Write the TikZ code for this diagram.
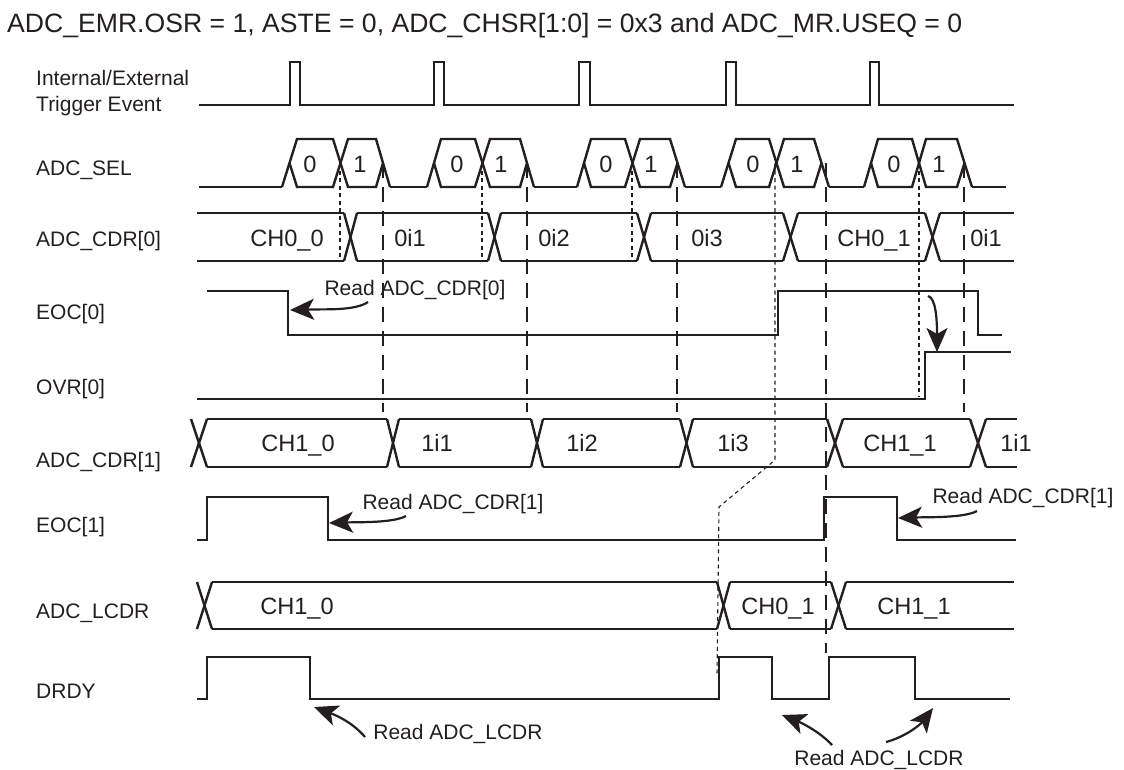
\documentclass[tikz,border=0pt]{standalone}
\usepackage{fontspec}
\setmainfont{Liberation Sans}
\usetikzlibrary{arrows.meta}
\definecolor{inkblack}{HTML}{231F20}
\tikzset{
  sigline/.style={inkblack, line width=2.4pt, line join=miter},
  griddash/.style={inkblack, line width=1.2pt, dash pattern=on 15pt off 9pt},
  edgedash/.style={inkblack, line width=1.1pt, dash pattern=on 4pt off 3.5pt},
  readarrow/.style={inkblack, line width=2.2pt, -{Stealth[length=24pt,width=21pt,inset=6pt]}},
  readtext/.style={inkblack, font=\fontsize{21}{24}\selectfont, inner sep=0pt, anchor=base},
  bustext/.style={inkblack, font=\fontsize{23.6}{26}\selectfont, inner sep=0pt, anchor=base},
  rowlabel/.style={inkblack, font=\fontsize{21}{24}\selectfont, inner sep=0pt, anchor=base west},
}
\begin{document}
\begin{tikzpicture}[x=1pt,y=-1pt]
  \useasboundingbox (0,0) rectangle (1124,769);
  \node[inkblack, font=\fontsize{26.6}{30}\selectfont, inner sep=0pt, anchor=west] (title) at (7,26)
    {ADC\_EMR.OSR = 1, ASTE = 0, ADC\_CHSR[1:0] = 0x3 and ADC\_MR.USEQ = 0};
  % row labels
  \node[rowlabel] (lbltrigA) at (36,85) {Internal/External};
  \node[rowlabel] (lbltrigB) at (36,111) {Trigger Event};
  \node[rowlabel] (lblsel) at (36,175) {ADC\_SEL};
  \node[rowlabel] (lblcdrzero) at (36,246) {ADC\_CDR[0]};
  \node[rowlabel] (lbleoczero) at (36,319) {EOC[0]};
  \node[rowlabel] (lblovr) at (36,394) {OVR[0]};
  \node[rowlabel] (lblcdrone) at (36,467) {ADC\_CDR[1]};
  \node[rowlabel] (lbleocone) at (36,532) {EOC[1]};
  \node[rowlabel] (lbllcdr) at (36,618) {ADC\_LCDR};
  \node[rowlabel] (lbldrdy) at (36,698) {DRDY};
  % dashed guides
  \foreach \x in {383,527,677,964} \draw[griddash] (\x,163) -- (\x,412);
  \draw[griddash] (826,163) -- (826,653);
  \foreach \x in {340,482,632} \draw[edgedash] (\x,163) -- (\x,261);
  \draw[edgedash] (919,163) -- (919,397);
  \draw[edgedash] (775,163) -- (775,460) -- (719,507) -- (717,675);
  % trigger
  \draw[sigline] (199,105) -- (290,105) -- (290,62) -- (300,62) -- (300,105)
    -- (434,105) -- (434,62) -- (444,62) -- (444,105)
    -- (579,105) -- (579,62) -- (590,62) -- (590,105)
    -- (726,105) -- (726,62) -- (736,62) -- (736,105)
    -- (870,105) -- (870,62) -- (879,62) -- (879,105) -- (1014,105);
  % ADC_SEL
  \foreach \a/\b/\c/\d/\e/\f in {282/297/333/348/376/390, 427/441/475/490/520/534, 577/591/625/640/670/685, 721/736/769/784/814/829, 864/878/912/926/957/972} {
    \draw[sigline] (\a,187) -- (\b,139) -- (\c,139) -- (\d,187) -- (\e,187) -- ({(\e+\f)/2},163);
    \draw[sigline] ({(\a+\b)/2},163) -- (\b,187) -- (\c,187) -- (\d,139) -- (\e,139) -- (\f,187);
  }
  \draw[sigline] (199,187) -- (282,187) (390,187) -- (427,187) (534,187) -- (577,187)
    (685,187) -- (721,187) (829,187) -- (864,187) (972,187) -- (1006,187);
  \foreach \x [count=\i] in {310,457,606,753,894} \node[bustext] (selzero\i) at (\x,172) {0};
  \foreach \x [count=\i] in {360,501,651,797,939} \node[bustext] (selone\i) at (\x,172) {1};
  % ADC_CDR[0]
  \foreach \a/\b in {344/357, 488/501, 637/651, 783/798, 925/940} {
    \draw[sigline] (\a,213) -- (\b,261);
    \draw[sigline] (\a,261) -- (\b,213);
  }
  \foreach \a/\b in {197/344, 357/488, 501/637, 651/783, 798/925, 940/1014} {
    \draw[sigline] (\a,213) -- (\b,213);
    \draw[sigline] (\a,261) -- (\b,261);
  }
  \node[bustext] (cdrzeroA) at (287,246) {CH0\_0};
  \node[bustext] (cdrzeroB) at (410,246) {0i1};
  \node[bustext] (cdrzeroC) at (554,246) {0i2};
  \node[bustext] (cdrzeroD) at (707,246) {0i3};
  \node[bustext] (cdrzeroE) at (874,246) {CH0\_1};
  \node[bustext] (cdrzeroF) at (986,246) {0i1};
  % EOC[0] and OVR[0]
  \draw[sigline] (207,291) -- (288,291) -- (288,335) -- (778,335) -- (778,291) -- (978,291) -- (978,335) -- (1002,335);
  \draw[sigline] (197,399) -- (925,399) -- (925,352) -- (1011,352);
  % ADC_CDR[1]
  \foreach \a/\b in {191/207, 387/399, 531/543, 680/693, 827/843, 970/986} {
    \draw[sigline] (\a,419) -- (\b,467);
    \draw[sigline] (\a,467) -- (\b,419);
  }
  \foreach \a/\b in {207/387, 399/531, 543/680, 693/827, 843/970, 986/1017} {
    \draw[sigline] (\a,419) -- (\b,419);
    \draw[sigline] (\a,467) -- (\b,467);
  }
  \node[bustext] (cdroneA) at (298,451) {CH1\_0};
  \node[bustext] (cdroneB) at (437,451) {1i1};
  \node[bustext] (cdroneC) at (582,451) {1i2};
  \node[bustext] (cdroneD) at (733,451) {1i3};
  \node[bustext] (cdroneE) at (900,451) {CH1\_1};
  \node[bustext] (cdroneF) at (1016,451) {1i1};
  % EOC[1]
  \draw[sigline] (197,540) -- (207,540) -- (207,497) -- (328,497) -- (328,540) -- (824,540) -- (824,497) -- (897,497) -- (897,540) -- (1016,540);
  % ADC_LCDR
  \foreach \a/\b in {197/212, 717/730, 831/846} {
    \draw[sigline] (\a,582) -- (\b,629);
    \draw[sigline] (\a,629) -- (\b,582);
  }
  \foreach \a/\b in {212/717, 730/831, 846/1014} {
    \draw[sigline] (\a,582) -- (\b,582);
    \draw[sigline] (\a,629) -- (\b,629);
  }
  \node[bustext] (lcdrA) at (297,614) {CH1\_0};
  \node[bustext] (lcdrB) at (778,614) {CH0\_1};
  \node[bustext] (lcdrC) at (914,614) {CH1\_1};
  % DRDY
  \draw[sigline] (197,699) -- (207,699) -- (207,657) -- (310,657) -- (310,699) -- (719,699) -- (719,657) -- (772,657) -- (772,699) -- (829,699) -- (829,657) -- (915,657) -- (915,699) -- (1010,699);
  % read labels
  \node[readtext] (readzero) at (415,295) {Read ADC\_CDR[0]};
  \node[readtext] (readone) at (453,509) {Read ADC\_CDR[1]};
  \node[readtext] (readoneB) at (1023,503) {Read ADC\_CDR[1]};
  \node[readtext] (readlcdr) at (458,739) {Read ADC\_LCDR};
  \node[readtext] (readlcdrB) at (879,765) {Read ADC\_LCDR};
  % read arrows
  \coordinate (tailzero) at (368,302);
  \coordinate (tipzero) at (290,310);
  \coordinate (tailovr) at (928,296);
  \coordinate (tipovr) at (937,352);
  \coordinate (tailone) at (406,516);
  \coordinate (tipone) at (329,523);
  \coordinate (tailoneB) at (977,511);
  \coordinate (tiponeB) at (898,518);
  \coordinate (taillcdr) at (365,737);
  \coordinate (tiplcdr) at (314,707);
  \coordinate (taillcdrB) at (832,745);
  \coordinate (tiplcdrB) at (782,715);
  \coordinate (taillcdrC) at (886,742);
  \coordinate (tiplcdrC) at (933,708);
  \draw[readarrow] (tailzero) .. controls (355,311) and (325,309) .. (tipzero);
  \draw[readarrow] (tailovr) .. controls (936,298) and (937,320) .. (tipovr);
  \draw[readarrow] (tailone) .. controls (393,523) and (360,522) .. (tipone);
  \draw[readarrow] (tailoneB) .. controls (964,518) and (930,517) .. (tiponeB);
  \draw[readarrow] (taillcdr) .. controls (353,723) and (338,716) .. (tiplcdr);
  \draw[readarrow] (taillcdrB) .. controls (820,732) and (802,723) .. (tiplcdrB);
  \draw[readarrow] (taillcdrC) .. controls (905,737) and (920,725) .. (tiplcdrC);
\end{tikzpicture}
\end{document}
